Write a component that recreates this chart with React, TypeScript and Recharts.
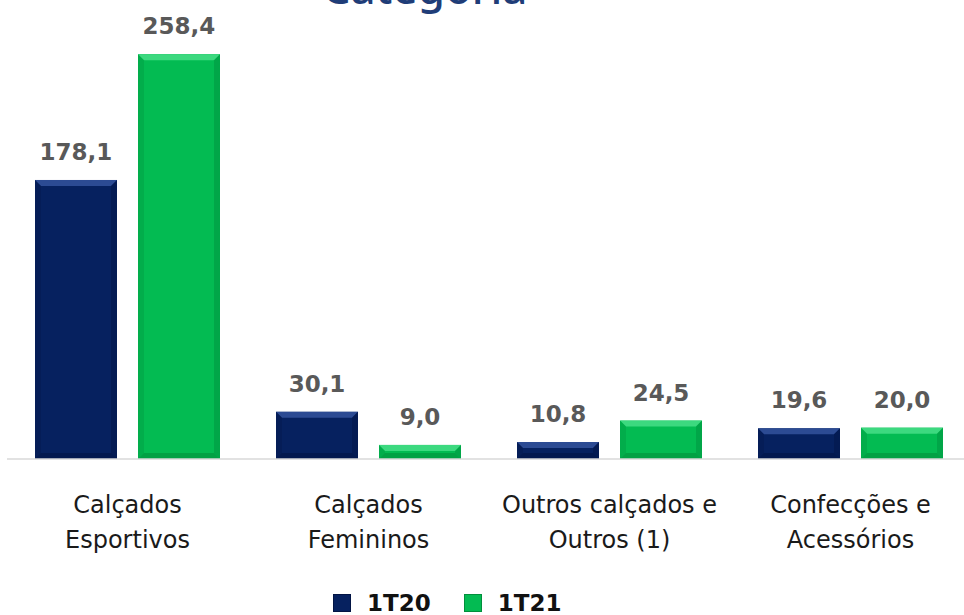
import React from 'react';
import { BarChart, Bar, XAxis, YAxis, Legend, LabelList } from 'recharts';

const categories = ['Calçados\nEsportivos', 'Calçados\nFemininos', 'Outros calçados e\nOutros (1)', 'Confecções e\nAcessórios'];
const values1T20 = [178.1, 30.1, 10.8, 19.6];
const values1T21 = [258.4, 9.0, 24.5, 20.0];
const seriesNames = ['1T20', '1T21'];

const COLORS = {
    '1T20': { base: '#06215f', light: '#2c4b93', dark: '#021444' },
    '1T21': { base: '#03bb52', light: '#3cd97f', dark: '#018f3c' },
};

const data = categories.map((name, i) => ({ name, '1T20': values1T20[i], '1T21': values1T21[i] }));

const fmt = (v: number) => v.toFixed(1).replace('.', ',');

const BevelBar = (key: '1T20' | '1T21') => (props: any) => {
    const { x, y, width, height } = props;
    if (!height || height <= 0) return null;
    const c = COLORS[key];
    const b = Math.min(6, height / 2);
    return (
        <g>
            <rect x={x} y={y} width={width} height={height} fill={c.base} />
            <polygon points={`${x},${y} ${x + width},${y} ${x + width - b},${y + b} ${x + b},${y + b}`} fill={c.light} />
            <polygon points={`${x},${y} ${x + b},${y + b} ${x + b},${y + height - b} ${x},${y + height}`} fill={c.dark} opacity={0.3} />
            <polygon points={`${x + width},${y} ${x + width - b},${y + b} ${x + width - b},${y + height - b} ${x + width},${y + height}`} fill={c.dark} opacity={0.45} />
            <polygon points={`${x},${y + height} ${x + b},${y + height - b} ${x + width - b},${y + height - b} ${x + width},${y + height}`} fill={c.dark} opacity={0.6} />
        </g>
    );
};

const ValueLabel = (props: any) => {
    const { x, y, width, value } = props;
    return (
        <text x={x + width / 2} y={y - 20} textAnchor="middle" fill="#595959" fontFamily="DejaVu Sans" fontWeight="bold" fontSize={23}>
            {fmt(value)}
        </text>
    );
};

const CategoryTick = (props: any) => {
    const { x, y, payload } = props;
    const lines = String(payload.value).split('\n');
    return (
        <text x={x} y={y} textAnchor="middle" fill="#1a1a1a" fontFamily="DejaVu Sans" fontSize={24}>
            {lines.map((l, i) => (
                <tspan key={i} x={x} dy={i === 0 ? 54 : 35}>{l}</tspan>
            ))}
        </text>
    );
};

const LegendContent = () => (
    <div style={{ display: 'flex', alignItems: 'center', height: 28, paddingLeft: 333, transform: 'translateY(2px)', fontFamily: 'DejaVu Sans', fontWeight: 'bold', fontSize: 23, color: '#111' }}>
        {seriesNames.map((s, i) => (
            <div key={s} style={{ display: 'flex', alignItems: 'center', marginRight: i === 0 ? 33 : 0 }}>
                <div style={{ width: 16, height: 16, background: COLORS[s as '1T20' | '1T21'].base, border: `1px solid ${COLORS[s as '1T20' | '1T21'].dark}`, marginRight: 16 }} />
                <span>{s}</span>
            </div>
        ))}
    </div>
);

export default function App() {
    return (
        <div style={{ width: 964, height: 615, overflow: 'hidden', position: 'relative', background: '#fff' }}>
            <style>{`body { margin: 0; overflow: hidden; }`}</style>
            <svg width={964} height={40} style={{ position: 'absolute', left: 0, top: 0, zIndex: 2 }}>
                <text x={425} y={4} textAnchor="middle" fill="#1f3d78" fontFamily="Noto Sans" fontWeight={500} fontSize={44}>
                    Categoria
                </text>
            </svg>
            <BarChart width={972} height={615} data={data} margin={{ top: 36, right: 1, bottom: 0, left: 7 }} barSize={82} barGap={21}>
                <XAxis dataKey="name" axisLine={{ stroke: '#d9d9d9', strokeWidth: 1.5 }} tickLine={false} tickSize={0} tickMargin={0} height={128} interval={0} tick={<CategoryTick />} />
                <YAxis hide domain={[0, 270]} />
                <Legend verticalAlign="bottom" height={28} content={<LegendContent />} wrapperStyle={{ left: 0, width: 964 }} />
                {seriesNames.map((s) => (
                    <Bar key={s} dataKey={s} isAnimationActive={false} fill={COLORS[s as '1T20' | '1T21'].base} shape={BevelBar(s as '1T20' | '1T21')}>
                        <LabelList dataKey={s} content={<ValueLabel />} />
                    </Bar>
                ))}
            </BarChart>
        </div>
    );
}
